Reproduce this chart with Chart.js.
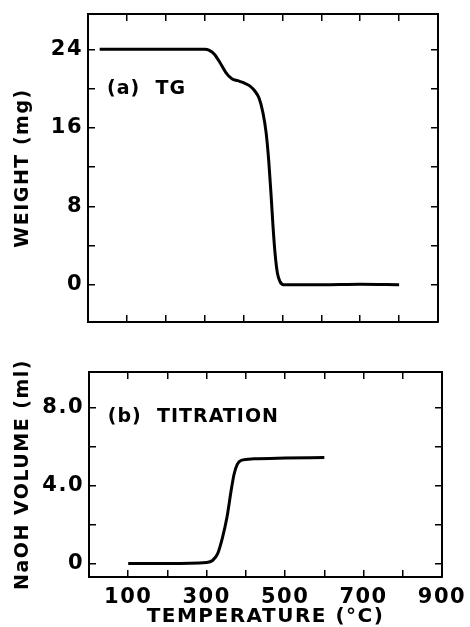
<!DOCTYPE html>
<html>
<head>
<meta charset="utf-8">
<script src="https://cdn.jsdelivr.net/npm/chart.js@4.4.1/dist/chart.umd.min.js"></script>
<style>
  html, body { margin: 0; padding: 0; background: #fff; }
  .panel { position: absolute; left: 0; }
  #top { top: 0; }
  #bottom { top: 330px; }
</style>
</head>
<body>
<div class="panel" id="top"><canvas id="chartTG" width="470" height="330"></canvas></div>
<div class="panel" id="bottom"><canvas id="chartTit" width="470" height="297"></canvas></div>
<script>
// (a) TG curve: temperature (°C) vs weight (mg)
const tgTemps   = [30, 100, 200, 300, 312, 325, 340, 355, 370, 385, 400, 415, 428, 440, 450, 458, 465, 471, 476, 481, 487, 494, 503, 600, 700, 800];
const tgWeights = [24, 24, 24, 24, 23.9, 23.5, 22.6, 21.6, 21.0, 20.8, 20.6, 20.3, 19.8, 19.0, 17.5, 15.5, 12.5, 9.0, 5.8, 3.2, 1.2, 0.3, 0.0, 0.0, 0.05, 0.0];

// (b) titration curve: temperature (°C) vs NaOH volume (ml)
const titTemps   = [100, 200, 300, 315, 328, 340, 352, 362, 370, 378, 388, 420, 500, 600];
const titVolumes = [0, 0, 0.05, 0.15, 0.5, 1.3, 2.4, 3.7, 4.6, 5.1, 5.3, 5.38, 5.42, 5.45];

const tempTicks = [100, 200, 300, 400, 500, 600, 700, 800];
const tempTicksBottom = [100, 200, 300, 400, 500, 600, 700, 800, 900];
const tempLabels = [100, 300, 500, 700, 900];
const weightTicks = [0, 4, 8, 12, 16, 20, 24];
const weightLabels = [0, 8, 16, 24];
const volumeTicks = [0, 2, 4, 6, 8];
const volumeLabels = { 0: '0', 4: '4.0', 8: '8.0' };

const FONT = "'DejaVu Sans', sans-serif";

// the lettering in the figure is set a bit wide
const wideText = {
    id: 'wideText',
    beforeLayout(chart) { chart.ctx.letterSpacing = '1.5px'; },
    beforeDraw(chart) { chart.ctx.letterSpacing = '1.5px'; }
};

const panelLabel = {
    id: 'panelLabel',
    afterDatasetsDraw(chart, args, opts) {
        const ctx = chart.ctx;
        const x = chart.scales.x.getPixelForValue(opts.x);
        const y = chart.scales.y.getPixelForValue(opts.y);
        ctx.save();
        ctx.font = 'bold 19px ' + FONT;
        ctx.fillStyle = '#000';
        ctx.textBaseline = 'alphabetic';
        ctx.textAlign = 'left';
        ctx.letterSpacing = '1px';
        ctx.fillText(opts.text, x, y);
        ctx.restore();
    }
};

function setTicks(list) {
    return scale => { scale.ticks = list.map(v => ({ value: v })); };
}

function sideAxis(pos, min, max, ticks, size, extra) {
    const horiz = pos === 'top' || pos === 'bottom';
    return Object.assign({
        type: 'linear',
        position: pos,
        min: min,
        max: max,
        afterBuildTicks: setTicks(ticks),
        afterFit: s => {
            if (horiz) s.height = size; else s.width = size;
            s.paddingTop = s.paddingBottom = s.paddingLeft = s.paddingRight = 0;
        },
        grid: { drawOnChartArea: false, drawTicks: true, tickLength: -7, color: '#000', lineWidth: 1.5 },
        border: { display: true, color: '#000', width: 2 },
        ticks: { display: false }
    }, extra || {});
}

function makeChart(id, temps, values, opts) {
    return new Chart(document.getElementById(id).getContext('2d'), {
        type: 'line',
        data: {
            datasets: [{
                data: temps.map((t, i) => ({ x: t, y: values[i] })),
                borderColor: '#000',
                borderWidth: 3,
                pointRadius: 0,
                fill: false,
                cubicInterpolationMode: 'monotone'
            }]
        },
        options: {
            responsive: false,
            animation: false,
            layout: { padding: 0 },
            plugins: {
                legend: { display: false },
                tooltip: { enabled: false },
                panelLabel: opts.label
            },
            scales: opts.scales
        },
        plugins: [wideText, panelLabel]
    });
}

const tickFont = { family: FONT, size: 21, weight: 'bold' };

makeChart('chartTG', tgTemps, tgWeights, {
    label: { text: '(a)  TG', x: 49, y: 19.4 },
    scales: {
        x: sideAxis('bottom', 0, 900, tempTicks, 8),
        x2: sideAxis('top', 0, 900, tempTicks, 14),
        y: sideAxis('left', -3.8, 27.6, weightTicks, 88, {
            ticks: {
                display: true, color: '#000', font: tickFont, padding: 12,
                callback: v => weightLabels.includes(v) ? String(v) : ''
            },
            title: {
                display: true, text: 'WEIGHT (mg)', color: '#000',
                font: { family: FONT, size: 19, weight: 'bold' },
                padding: { top: 12, bottom: 0 }
            }
        }),
        y2: sideAxis('right', -3.8, 27.6, weightTicks, 32)
    }
});

makeChart('chartTit', titTemps, titVolumes, {
    label: { text: '(b)  TITRATION', x: 48, y: 7.27 },
    scales: {
        x: sideAxis('bottom', 0, 900, tempTicksBottom, 50, {
            ticks: {
                display: true, color: '#000', font: tickFont, padding: 15,
                autoSkip: false, maxRotation: 0,
                callback: v => tempLabels.includes(v) ? String(v) : ''
            },
            title: {
                display: true, text: 'TEMPERATURE (°C)', color: '#000',
                font: { family: FONT, size: 20, weight: 'bold' },
                padding: { top: 0, bottom: -2 }
            }
        }),
        x2: sideAxis('top', 0, 900, tempTicks, 42),
        y: sideAxis('left', -0.7, 9.85, volumeTicks, 89, {
            ticks: {
                display: true, color: '#000', font: tickFont, padding: 12,
                callback: v => volumeLabels[v] !== undefined ? volumeLabels[v] : ''
            },
            title: {
                display: true, text: 'NaOH VOLUME (ml)', color: '#000',
                font: { family: FONT, size: 19, weight: 'bold' },
                padding: { top: 12, bottom: 0 }
            }
        }),
        y2: sideAxis('right', -0.7, 9.85, volumeTicks, 28)
    }
});
</script>
</body>
</html>
